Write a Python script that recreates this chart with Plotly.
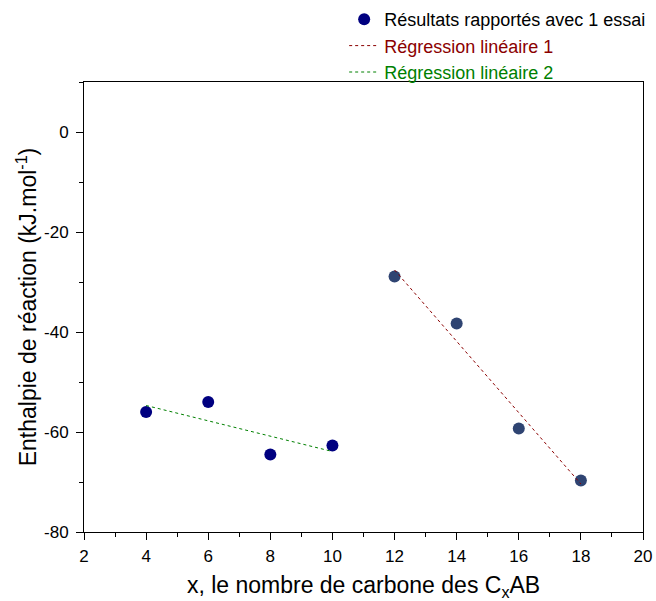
import plotly.graph_objects as go

x_left = [4, 6, 8, 10]
y_left = [-56.0, -54.0, -64.5, -62.7]
x_right = [12, 14, 16, 18]
y_right = [-28.9, -38.3, -59.3, -69.7]

reg1_x = [12, 18]
reg1_y = [-27.6, -70.4]
reg2_x = [4, 10]
reg2_y = [-54.7, -63.9]

x_ticks = [2, 4, 6, 8, 10, 12, 14, 16, 18, 20]
x_tick_labels = ["2", "4", "6", "8", "10", "12", "14", "16", "18", "20"]
y_ticks = [-80, -60, -40, -20, 0]
y_tick_labels = ["-80", "-60", "-40", "-20", "0"]

FONT = "Liberation Sans, Arial, sans-serif"

fig = go.Figure()
fig.add_trace(go.Scatter(
    x=x_left, y=y_left, mode="markers",
    marker=dict(color="#000080", size=12),
    name="Résultats rapportés avec 1 essai"))
fig.add_trace(go.Scatter(
    x=x_right, y=y_right, mode="markers",
    marker=dict(color="#2f4472", size=12),
    showlegend=False))
fig.add_trace(go.Scatter(
    x=reg1_x, y=reg1_y, mode="lines",
    line=dict(color="#8b0000", width=1, dash="dot"),
    name='<span style="color:#8b0000">Régression linéaire 1</span>'))
fig.add_trace(go.Scatter(
    x=reg2_x, y=reg2_y, mode="lines",
    line=dict(color="#008000", width=1, dash="dot"),
    name='<span style="color:#008000">Régression linéaire 2</span>'))

axis_common = dict(
    showline=True, linecolor="black", linewidth=1, mirror=True,
    ticks="outside", ticklen=7, tickwidth=1, tickcolor="black",
    showgrid=False, zeroline=False, automargin=False,
    tickfont=dict(family=FONT, size=17, color="black"),
)

fig.update_xaxes(
    range=[2, 20], tickvals=x_ticks, ticktext=x_tick_labels,
    minor=dict(ticks="outside", ticklen=4, tickcolor="black", dtick=1, showgrid=False),
    ticklabelstandoff=2,
    title=dict(text="x, le nombre de carbone des C<sub>x</sub>AB",
               font=dict(family=FONT, size=23, color="black"), standoff=15),
    **axis_common)
fig.update_yaxes(
    range=[-80, 10], tickvals=y_ticks, ticktext=y_tick_labels,
    minor=dict(ticks="outside", ticklen=4, tickcolor="black", dtick=10, tick0=0, showgrid=False),
    ticklabelstandoff=4,
    title=dict(text="Enthalpie de réaction (kJ.mol<sup>-1</sup>)",
               font=dict(family=FONT, size=23, color="black"), standoff=0),
    **axis_common)

fig.update_layout(
    width=656, height=601,
    margin=dict(l=84, r=13, t=82, b=69, autoexpand=False),
    plot_bgcolor="white", paper_bgcolor="white",
    font=dict(family=FONT, color="black"),
    legend=dict(x=1.0146, xanchor="right", y=1.08, yanchor="middle",
                font=dict(family=FONT, size=18, color="black"),
                bgcolor="rgba(0,0,0,0)", tracegroupgap=0),
)

fig.write_html("out.html", config={"displayModeBar": False},
               post_script="document.body.style.margin='0';")
